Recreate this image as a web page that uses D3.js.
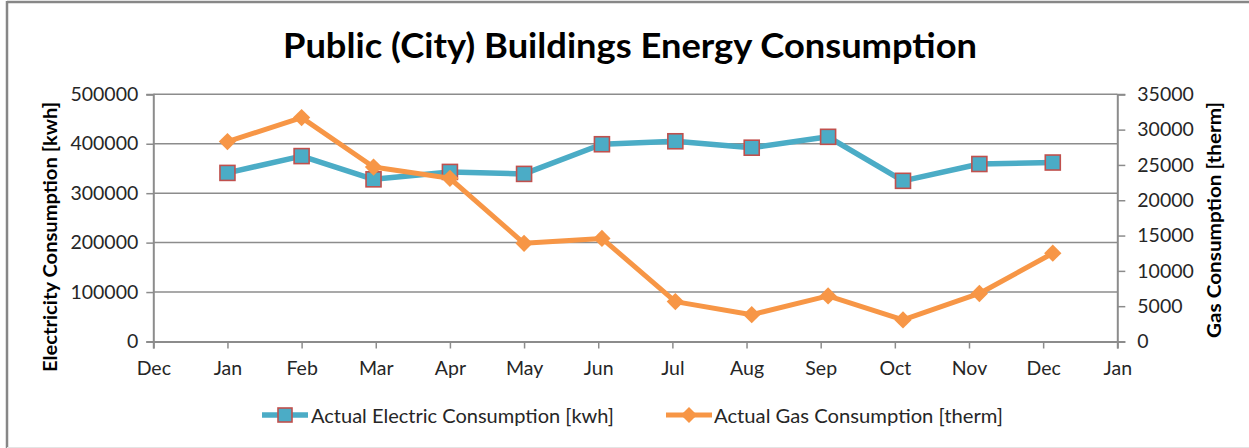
<!DOCTYPE html>
<html>
<head>
<meta charset="utf-8">
<script src="https://cdn.jsdelivr.net/npm/d3@7"></script>
<style>
  html, body { margin: 0; padding: 0; background: #fff; }
  svg { display: block; font-family: Lato, "Open Sans", sans-serif; }
</style>
</head>
<body>
<svg id="chart" width="1249" height="448"></svg>
<script>
// ---- data ----
const title = "Public (City) Buildings Energy Consumption";
const axisMonthLabels = ["Dec","Jan","Feb","Mar","Apr","May","Jun","Jul","Aug","Sep","Oct","Nov","Dec","Jan"];
const months = ["Jan","Feb","Mar","Apr","May","Jun","Jul","Aug","Sep","Oct","Nov","Dec"];
// position of each reading on the month axis (Dec = 0, Jan = 1, ...)
const monthPos = [1.0, 2.0, 2.97, 4.0, 5.0, 6.05, 7.04, 8.07, 9.1, 10.11, 11.14, 12.13];
const electric = [341000, 375000, 328000, 343000, 339000, 399000, 405000, 392000, 414000, 325000, 359000, 362000];
const gas = [28300, 31700, 24700, 23100, 13900, 14600, 5650, 3800, 6450, 3050, 6800, 12500];
const electricTicks = [0, 100000, 200000, 300000, 400000, 500000];
const gasTicks = [0, 5000, 10000, 15000, 20000, 25000, 30000, 35000];
const electricName = "Actual Electric Consumption [kwh]";
const gasName = "Actual Gas Consumption [therm]";
const leftTitle = "Electricity Consumption [kwh]";
const rightTitle = "Gas Consumption [therm]";

// ---- styles ----
const blue = "#4BACC6", red = "#C0504D", orange = "#F79646";
const gridColor = "#8C8C8C", textColor = "#262626";

const svg = d3.select("#chart");
const L = 153.3, R = 1117.3, T = 94.3, B = 341.5;

const x = d3.scaleLinear().domain([0, axisMonthLabels.length - 1]).range([L, R]);
const yE = d3.scaleLinear().domain([0, 500000]).range([B, T]);
const yG = d3.scaleLinear().domain([0, 35000]).range([B, T]);

// outer frame
svg.append("line").attr("x1", 7).attr("x2", 1249).attr("y1", 2).attr("y2", 2)
  .attr("stroke", "#878787").attr("stroke-width", 2.5);
svg.append("line").attr("x1", 7).attr("x2", 7).attr("y1", 1).attr("y2", 448)
  .attr("stroke", "#878787").attr("stroke-width", 2.5);
svg.append("line").attr("x1", 7).attr("x2", 1249).attr("y1", 447.5).attr("y2", 447.5)
  .attr("stroke", "#e4e4e4").attr("stroke-width", 1);

// title
svg.append("text").attr("x", 630).attr("y", 58)
  .attr("text-anchor", "middle").attr("font-weight", "bold").attr("font-size", 34)
  .attr("fill", "#000").attr("textLength", 694).attr("lengthAdjust", "spacingAndGlyphs")
  .text(title);

// gridlines
svg.append("g").selectAll("line").data(electricTicks.slice(1)).join("line")
  .attr("x1", L).attr("x2", R).attr("y1", d => yE(d)).attr("y2", d => yE(d))
  .attr("stroke", gridColor).attr("stroke-width", 1.5);

// left axis
const leftAxis = d3.axisLeft(yE).tickValues(electricTicks).tickSize(7).tickPadding(8).tickFormat(d3.format("d"));
const gl = svg.append("g").attr("transform", `translate(${L},0)`).call(leftAxis);
gl.select(".domain").attr("stroke", gridColor).attr("stroke-width", 2);
gl.selectAll(".tick line").attr("stroke", gridColor).attr("stroke-width", 1.5);
gl.selectAll(".tick text").attr("font-size", 19.5).attr("fill", textColor).attr("font-family", "Lato");

// right axis
const rightAxis = d3.axisRight(yG).tickValues(gasTicks).tickSize(8).tickPadding(12).tickFormat(d3.format("d"));
const gr = svg.append("g").attr("transform", `translate(${R},0)`).call(rightAxis);
gr.select(".domain").attr("stroke", gridColor).attr("stroke-width", 2);
gr.selectAll(".tick line").attr("stroke", gridColor).attr("stroke-width", 1.5);
gr.selectAll(".tick text").attr("font-size", 19.5).attr("fill", textColor).attr("font-family", "Lato");

// bottom axis
const bottomAxis = d3.axisBottom(x).tickValues(d3.range(axisMonthLabels.length)).tickSize(7).tickPadding(13)
  .tickFormat(i => axisMonthLabels[i]);
const gb = svg.append("g").attr("transform", `translate(0,${B})`).call(bottomAxis);
gb.select(".domain").attr("stroke", gridColor).attr("stroke-width", 2);
gb.selectAll(".tick line").attr("stroke", gridColor).attr("stroke-width", 1.5);
gb.selectAll(".tick text").attr("font-size", 19.5).attr("fill", textColor).attr("font-family", "Lato");

// axis titles
svg.append("text").attr("transform", `translate(50,${237}) rotate(-90)`)
  .attr("text-anchor", "middle").attr("dominant-baseline", "central")
  .attr("font-weight", "bold").attr("font-size", 18).attr("fill", "#000")
  .attr("textLength", 270).attr("lengthAdjust", "spacingAndGlyphs").text(leftTitle);
svg.append("text").attr("transform", `translate(1214,${220}) rotate(-90)`)
  .attr("text-anchor", "middle").attr("dominant-baseline", "central")
  .attr("font-weight", "bold").attr("font-size", 18).attr("fill", "#000")
  .attr("textLength", 236).attr("lengthAdjust", "spacingAndGlyphs").text(rightTitle);

// series
const eData = months.map((m, i) => ({ m, p: monthPos[i], v: electric[i] }));
const gData = months.map((m, i) => ({ m, p: monthPos[i], v: gas[i] }));

svg.append("path").datum(eData)
  .attr("d", d3.line().x(d => x(d.p)).y(d => yE(d.v)))
  .attr("fill", "none").attr("stroke", blue).attr("stroke-width", 5.5).attr("stroke-linejoin", "round");
const sq = 15;
svg.append("g").selectAll("rect").data(eData).join("rect")
  .attr("x", d => x(d.p) - sq / 2).attr("y", d => yE(d.v) - sq / 2)
  .attr("width", sq).attr("height", sq)
  .attr("fill", blue).attr("stroke", red).attr("stroke-width", 1.6);

svg.append("path").datum(gData)
  .attr("d", d3.line().x(d => x(d.p)).y(d => yG(d.v)))
  .attr("fill", "none").attr("stroke", orange).attr("stroke-width", 5).attr("stroke-linejoin", "round");
svg.append("g").selectAll("path").data(gData).join("path")
  .attr("transform", d => `translate(${x(d.p)},${yG(d.v)}) rotate(45)`)
  .attr("d", d3.symbol().type(d3.symbolSquare).size(150))
  .attr("fill", orange);

// legend
const ly = 415;
const leg = svg.append("g");
leg.append("line").attr("x1", 262).attr("x2", 308).attr("y1", ly).attr("y2", ly)
  .attr("stroke", blue).attr("stroke-width", 5.5);
leg.append("rect").attr("x", 285 - 7).attr("y", ly - 7).attr("width", 14).attr("height", 14)
  .attr("fill", blue).attr("stroke", red).attr("stroke-width", 1.6);
leg.append("text").attr("x", 311).attr("y", ly).attr("dominant-baseline", "central")
  .attr("font-size", 20).attr("fill", textColor)
  .attr("textLength", 303).attr("lengthAdjust", "spacingAndGlyphs").text(electricName);
leg.append("line").attr("x1", 666).attr("x2", 712).attr("y1", ly).attr("y2", ly)
  .attr("stroke", orange).attr("stroke-width", 5);
leg.append("path").attr("transform", `translate(689,${ly}) rotate(45)`)
  .attr("d", d3.symbol().type(d3.symbolSquare).size(130)).attr("fill", orange);
leg.append("text").attr("x", 714).attr("y", ly).attr("dominant-baseline", "central")
  .attr("font-size", 20).attr("fill", textColor)
  .attr("textLength", 289).attr("lengthAdjust", "spacingAndGlyphs").text(gasName);
</script>
</body>
</html>
